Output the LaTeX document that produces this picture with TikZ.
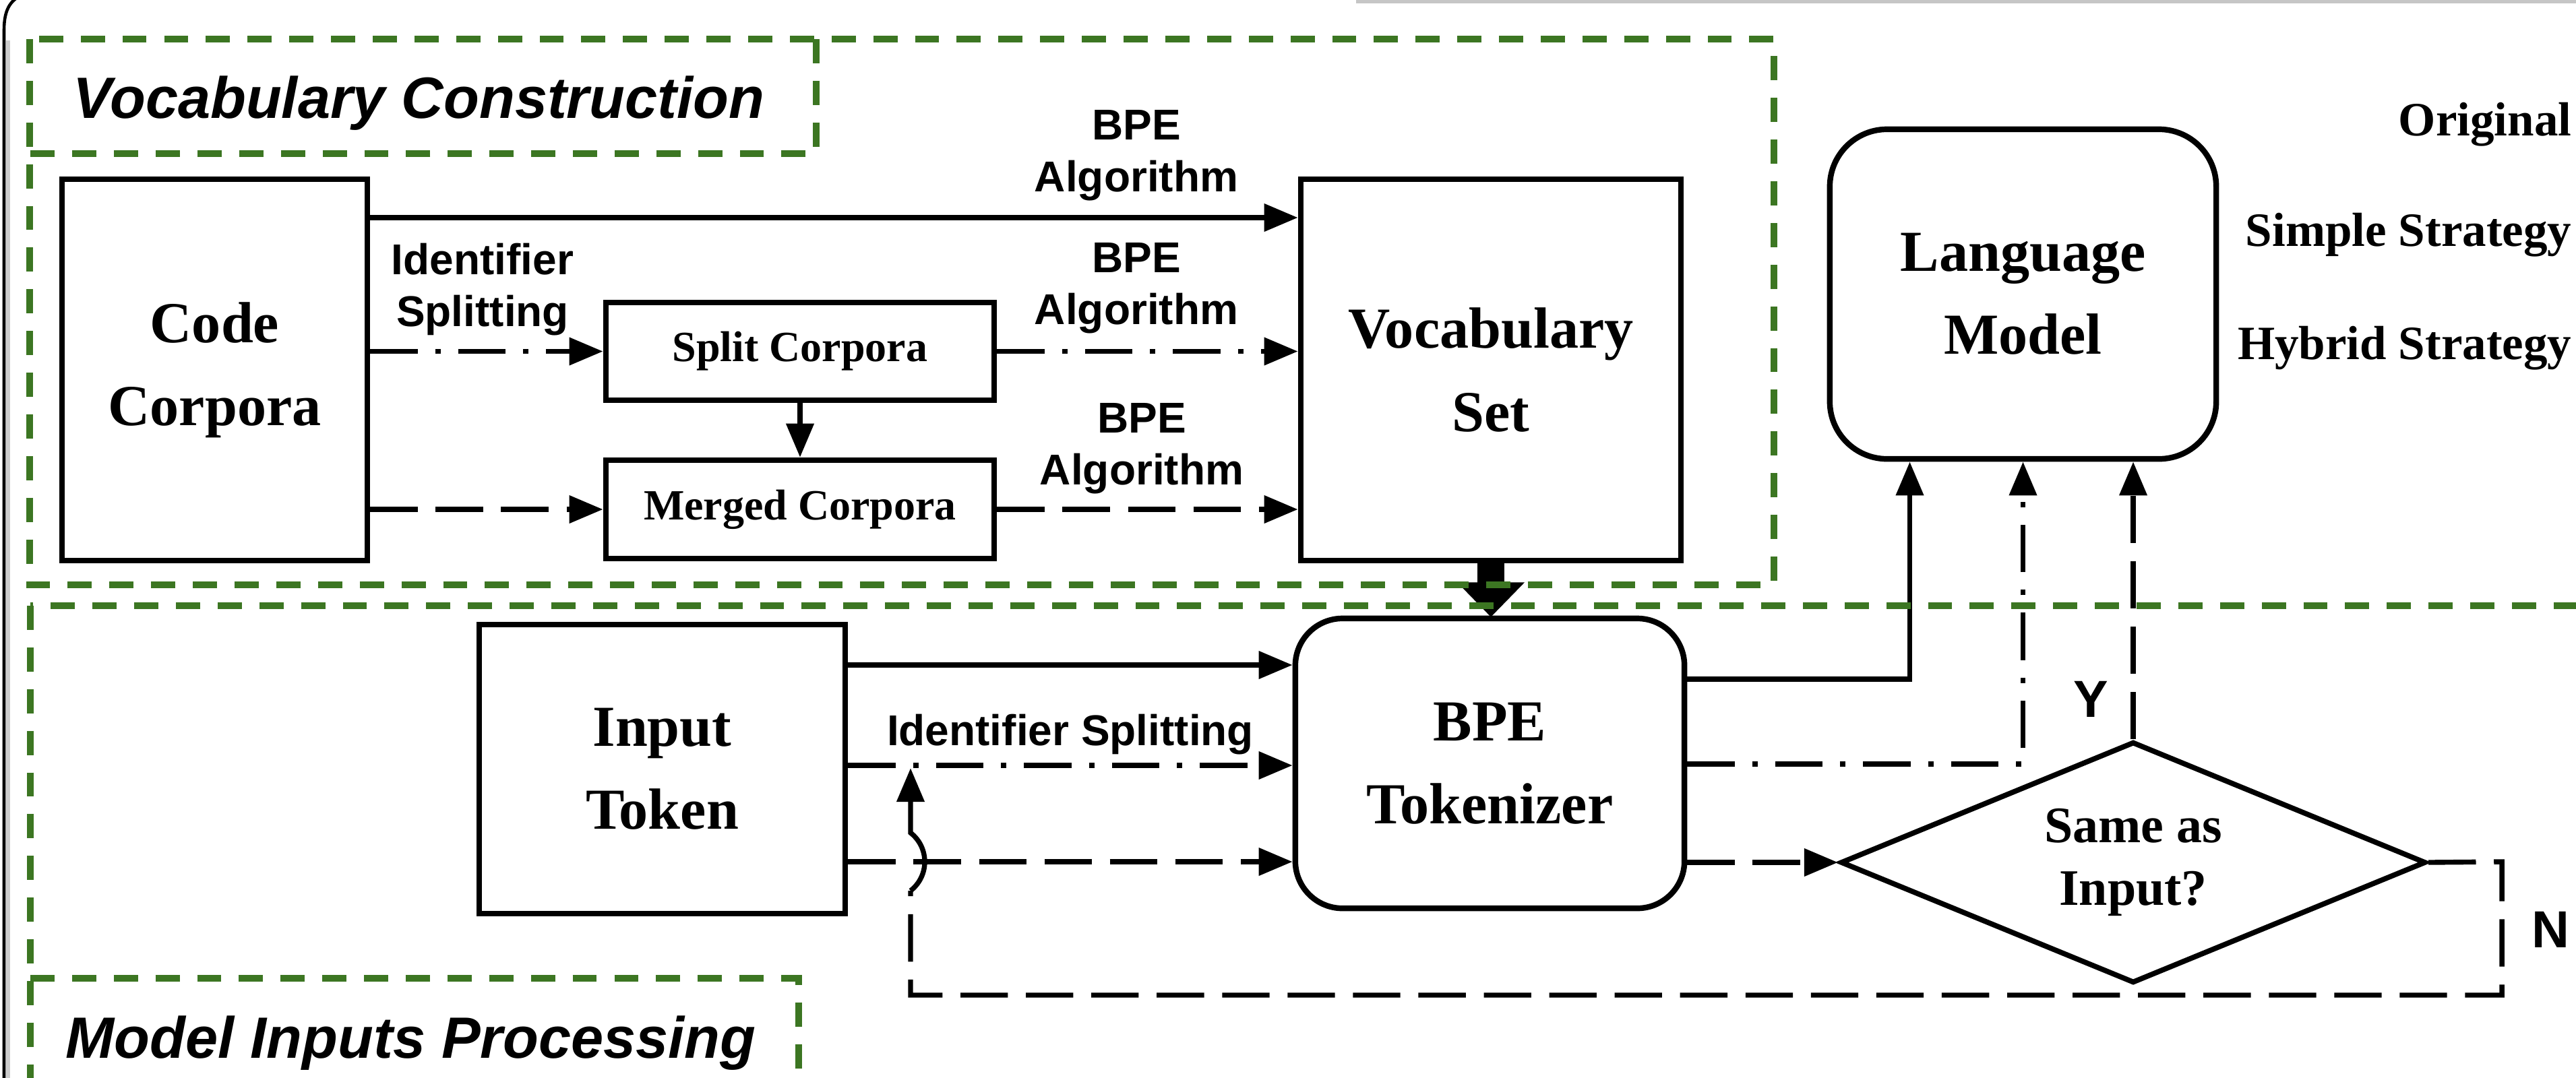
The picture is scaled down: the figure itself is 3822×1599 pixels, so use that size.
\documentclass[tikz,border=0pt]{standalone}
\usepackage{fontspec}
\setmainfont{Liberation Serif}
\newfontfamily\arialf{Liberation Sans}
\usetikzlibrary{arrows.meta,shapes.geometric,calc}
\definecolor{grn}{RGB}{60,118,34}
\begin{document}
\begin{tikzpicture}[x=0.01cm,y=-0.01cm,
  blk/.style={draw,line width=2.4pt,inner sep=0pt,align=center,font=\bfseries\fontsize{24.5}{35}\selectfont},
  sblk/.style={draw,line width=2.4pt,inner sep=0pt,align=center,font=\bfseries\fontsize{18.2}{22}\selectfont},
  lbl/.style={inner sep=0pt,align=center,font=\arialf\bfseries\fontsize{18.2}{21.9}\selectfont},
  ttl/.style={inner sep=0pt,anchor=base west,font=\arialf\bfseries\itshape\fontsize{24.6}{30}\selectfont},
  rtxt/.style={inner sep=0pt,anchor=base east,font=\bfseries\fontsize{20.2}{24}\selectfont},
  yn/.style={inner sep=0pt,font=\arialf\bfseries\fontsize{22}{26}\selectfont},
  arr/.style={line width=2.1pt,-{Triangle[length=5mm,width=4mm]}},
  dd/.style={dash pattern=on 20pt off 7.6pt},
  dsd/.style={dash pattern=on 20pt off 7.4pt on 2.3pt off 7.4pt},
  grnbox/.style={draw=grn,line width=2.6pt,dash pattern=on 10.2pt off 7.4pt}
]
\useasboundingbox (0,0) rectangle (3822,1599);
\fill[white] (0,0) rectangle (3822,1599);
\clip (0,0) rectangle (3822,1599);

% frame remnants
\draw[line width=1.3pt] (6,1620) -- (6,45) .. controls (6,20) and (12,4) .. (28,-5);
\draw[gray!40,line width=1.5pt] (12,1620) -- (12,60);
\draw[gray!45,line width=2pt] (2012,1) -- (3850,1);

% nodes
\node[blk,minimum width=4.53cm,minimum height=5.66cm] (cc) at (318.5,549) {Code\\Corpora};
\node[sblk,minimum width=5.76cm,minimum height=1.45cm] (split) at (1187,521.5) {Split Corpora};
\node[sblk,minimum width=5.76cm,minimum height=1.46cm] (merged) at (1187,756) {Merged Corpora};
\node[blk,minimum width=5.64cm,minimum height=5.66cm] (vocab) at (2212,549) {Vocabulary\\Set};
\node[blk,rounded corners=0.85cm,minimum width=5.73cm,minimum height=4.89cm] (lm) at (3001.5,436.5) {Language\\Model};
\node[blk,rounded corners=0.7cm,minimum width=5.77cm,minimum height=4.30cm] (tok) at (2210.5,1133) {BPE\\Tokenizer};
\node[blk,minimum width=5.43cm,minimum height=4.29cm] (in) at (982.5,1141.5) {Input\\Token};
\node[diamond,draw,line width=2.2pt,shape aspect=2.4,minimum width=8.68cm,minimum height=3.58cm,inner sep=0pt,align=center,font=\bfseries\fontsize{21.6}{26.5}\selectfont] (dia) at (3165,1280) {Same as\\Input?};

% text labels
\node[rtxt] (orig) at (3816,201) {Original};
\node[rtxt] (simple) at (3816,365) {Simple Strategy};
\node[rtxt] (hybrid) at (3816,533) {Hybrid Strategy};
\node[lbl] (l1) at (716,430) {Identifier\\Splitting};
\node[lbl] (l2) at (1686,231) {BPE\\Algorithm};
\node[lbl] (l3) at (1686,428) {BPE\\Algorithm};
\node[lbl] (l4) at (1694,666) {BPE\\Algorithm};
\node[lbl,anchor=base] (l5) at (1588,1106) {Identifier Splitting};
\node[yn] (ylab) at (3102,1038) {Y};
\node[yn] (nlab) at (3784,1380) {N};
\node[ttl] (t1) at (108,175) {Vocabulary Construction};
\node[ttl] (t2) at (97,1570) {Model Inputs Processing};

% connectors: vocabulary construction
\draw[arr] (cc.east |- 0,323) -- (vocab.west |- 0,323);
\draw[arr,dsd] (cc.east |- split.west) -- (split.west);
\draw[arr,dd] (cc.east |- merged.west) -- (merged.west);
\draw[arr,dsd] (split.east) -- (vocab.west |- split.east);
\draw[arr,dd] (merged.east) -- (vocab.west |- merged.east);
\draw[arr] (split.south) -- (merged.north);

% thick arrow vocab -> tokenizer
\fill ($(vocab.south)+(-20,0)$) rectangle ($(vocab.south)+(20,30)$);
\fill ($(vocab.south)+(-50,28)$) -- ($(vocab.south)+(50,28)$) -- ($(vocab.south |- tok.north)+(0,2)$) -- cycle;

% connectors: model inputs
\draw[arr] (in.east |- 0,987) -- (tok.west |- 0,987);
\draw[arr,dsd] (in.east |- 0,1136) -- (tok.west |- 0,1136);
\draw[arr,dd] (in.east |- 0,1279) -- (tok.west |- 0,1279);
\draw[arr] (tok.east |- 0,1008) -| ($(lm.south)+(-168,0)$);
\draw[arr,dsd] (tok.east |- 0,1134) -| (lm.south);
\draw[arr,dd] (tok.east |- dia.west) -- (dia.west);
\draw[arr,dd] (dia.north) -- (dia.north |- lm.south);

% feedback loop
\coordinate (cr1) at (3712,1279);
\coordinate (cr2) at (3712,1477);
\coordinate (cr3) at (1351,1477);
\coordinate (hopB) at (1351,1322);
\coordinate (hopT) at (1351,1236);
\coordinate (ret) at (1351,1140);
\draw[line width=2.1pt,dd] (dia.east) -- (cr1) -- (cr2) -- (cr3) -- (hopB);
\draw[arr] (hopB) .. controls (1379,1300) and (1379,1258) .. (hopT) -- (ret);

% green dashed groups
\draw[grnbox] (44,58) rectangle (2632,868);
\draw[grnbox] (1211,58) -- (1211,228) -- (44,228);
\draw[grnbox] (45,899) rectangle (3950,1700);
\draw[grnbox] (45,1452) -- (1185,1452) -- (1185,1700);
\end{tikzpicture}
\end{document}
